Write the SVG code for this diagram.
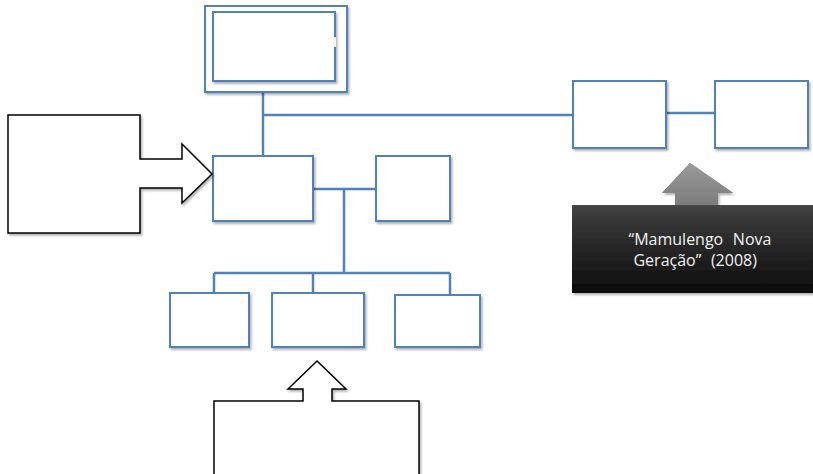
<svg xmlns="http://www.w3.org/2000/svg" width="813" height="474" viewBox="0 0 813 474">
<defs>
<filter id="sh" x="-10%" y="-10%" width="130%" height="130%">
<feDropShadow dx="1.5" dy="2" stdDeviation="1.2" flood-color="#000" flood-opacity="0.3"/>
</filter>
<linearGradient id="dk" x1="0" y1="0" x2="0" y2="1">
<stop offset="0" stop-color="#7a7a7a"/>
<stop offset="0.4" stop-color="#3a3a3a"/>
<stop offset="1" stop-color="#0c0c0c"/>
</linearGradient>
<linearGradient id="ah" x1="0" y1="0" x2="0" y2="1">
<stop offset="0" stop-color="#9a9a9a"/>
<stop offset="1" stop-color="#7c7c7c"/>
</linearGradient>
</defs>
<style>
.box{fill:#fff;stroke:#4f81bd;stroke-width:2;filter:url(#sh)}
.con{fill:none;stroke:#4f81bd;stroke-width:2.5}
.callout{fill:#fff;stroke:#000;stroke-width:1.5;filter:url(#sh)}
.lbl{font-family:"Open Sans","Liberation Sans",sans-serif;font-size:16px;fill:#f2f2f2;text-anchor:middle}
</style>
<rect width="813" height="474" fill="#fff"/>
<g id="connectors">
<path class="con" d="M263 81V155"/>
<path class="con" d="M263 115H585"/>
<path class="con" d="M666 113H715"/>
<path class="con" d="M313 189H376"/>
<path class="con" d="M344 189V273"/>
<path class="con" d="M214 273H450"/>
<path class="con" d="M214 273V294"/>
<path class="con" d="M313 273V294"/>
<path class="con" d="M450 273V295"/>
</g>
<g id="top-node">
<rect class="box" x="205" y="6" width="142" height="86"/>
<rect class="box" x="213" y="12" width="122" height="69"/>
<rect x="333" y="37" width="3" height="10" fill="#fff"/>
</g>
<g id="node-right-a"><rect class="box" x="573" y="81" width="93" height="67"/></g>
<g id="node-right-b"><rect class="box" x="715" y="81" width="93" height="67"/></g>
<g id="node-middle"><rect class="box" x="213" y="156" width="100" height="65"/></g>
<g id="node-middle-right"><rect class="box" x="376" y="156" width="74" height="65"/></g>
<g id="node-bottom-1"><rect class="box" x="170" y="293" width="79" height="54"/></g>
<g id="node-bottom-2"><rect class="box" x="272" y="293" width="92" height="54"/></g>
<g id="node-bottom-3"><rect class="box" x="395" y="295" width="85" height="52"/></g>
<g id="callout-left">
<path class="callout" d="M8 115H140V159H182V144L212 174L182 203V188H140V233H8Z"/>
</g>
<g id="callout-bottom">
<path class="callout" d="M214 480V401H303V389H288L317 361L346 389H332V401H419V480"/>
</g>
<g id="callout-dark">
<path d="M572 205H675V193H662L690 163L733 193H718V205H813V293H572Z" fill="url(#dk)" filter="url(#sh)"/>
<path d="M675 205V193H662L690 163L733 193H718V205Z" fill="url(#ah)"/>
<text class="lbl" x="700" y="245">&#xF020;“Mamulengo&#xF020;Nova&#xF020;</text>
<text class="lbl" x="700" y="266">Geração”&#xF020;(2008)&#xF020;</text>
</g>
</svg>
